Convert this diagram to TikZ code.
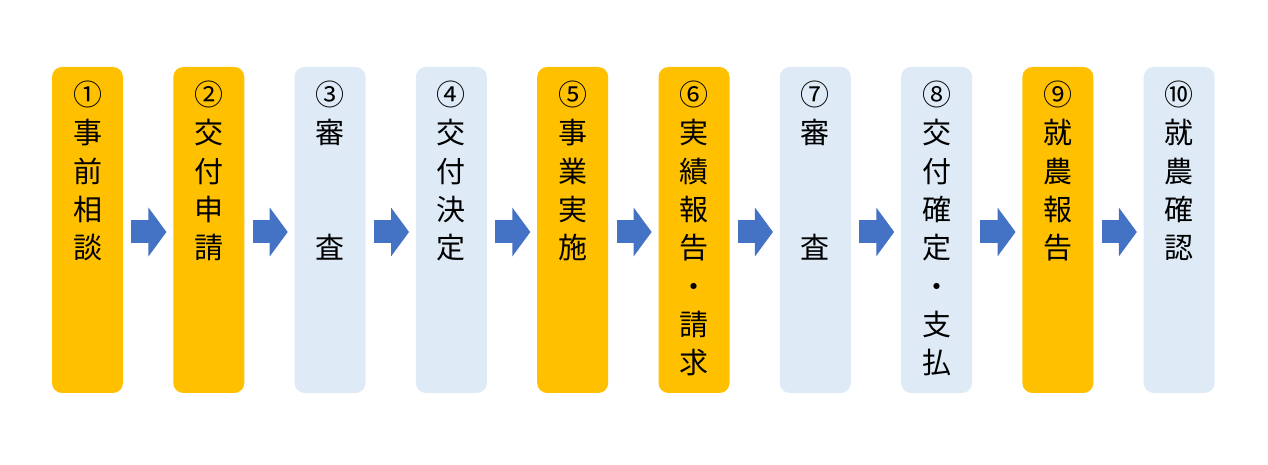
\documentclass[tikz,border=0pt]{standalone}
\usepackage{fontspec}
\setmainfont{Noto Sans CJK JP}
\usetikzlibrary{arrows.meta, positioning, calc}
\definecolor{stepgold}{HTML}{FFC000}
\definecolor{steppale}{HTML}{DEEBF7}
\definecolor{flowblue}{HTML}{4472C4}
\tikzset{
  stepbox/.style={rectangle, rounded corners=0.2cm, minimum width=1.42cm, minimum height=6.52cm, inner sep=0pt},
  done/.style={stepbox, fill=stepgold},
  todo/.style={stepbox, fill=steppale},
  steptext/.style={anchor=north, align=center, inner sep=0pt, font=\fontsize{16.5}{21.8}\selectfont},
  flow/.style={draw=flowblue, line width=0.46cm, shorten <=0.16cm, shorten >=0.13cm, -{Triangle[length=0.36cm, width=0.96cm]}}
}
\begin{document}
\begin{tikzpicture}
\useasboundingbox (0,0) rectangle (25.36,-9.3);
% boxes, left to right
\foreach \i/\kind in {1/done,2/done,3/todo,4/todo,5/done,6/done,7/todo,8/todo,9/done,10/todo}
  \node (b\i) [\kind] at ({1.75+(\i-1)*2.426}, -4.6) {};

\node (t1) [steptext] at ($(b1.north)+(0,-0.28)$) {①\\事\\前\\相\\談};
\node (t2) [steptext] at ($(b2.north)+(0,-0.28)$) {②\\交\\付\\申\\請};
\node (t3) [steptext] at ($(b3.north)+(0,-0.28)$) {③\\審\\\mbox{}\\\mbox{}\\査};
\node (t4) [steptext] at ($(b4.north)+(0,-0.28)$) {④\\交\\付\\決\\定};
\node (t5) [steptext] at ($(b5.north)+(0,-0.28)$) {⑤\\事\\業\\実\\施};
\node (t6) [steptext] at ($(b6.north)+(0,-0.28)$) {⑥\\実\\績\\報\\告\\・\\請\\求};
\node (t7) [steptext] at ($(b7.north)+(0,-0.28)$) {⑦\\審\\\mbox{}\\\mbox{}\\査};
\node (t8) [steptext] at ($(b8.north)+(0,-0.28)$) {⑧\\交\\付\\確\\定\\・\\支\\払};
\node (t9) [steptext] at ($(b9.north)+(0,-0.28)$) {⑨\\就\\農\\報\\告};
\node (t10) [steptext] at ($(b10.north)+(0,-0.28)$) {⑩\\就\\農\\確\\認};

% arrows between steps
\foreach \i [evaluate=\i as \j using int(\i+1)] in {1,...,9}
  \draw [flow] ($(b\i.east)+(0,-0.04)$) -- ($(b\j.west)+(0,-0.04)$);
\end{tikzpicture}
\end{document}
